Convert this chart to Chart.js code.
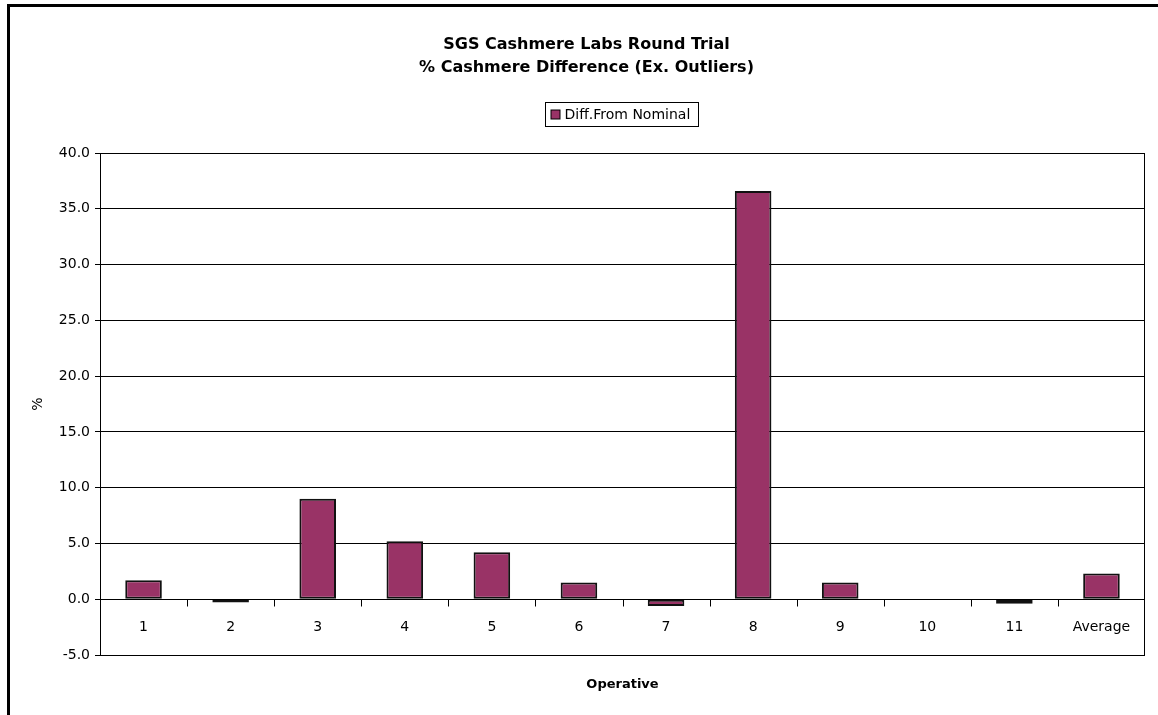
<!DOCTYPE html>
<html>
<head>
<meta charset="utf-8">
<title>SGS Cashmere Labs Round Trial</title>
<script src="https://cdn.jsdelivr.net/npm/chart.js@4.4.1/dist/chart.umd.min.js"></script>
<style>
  html, body { margin: 0; padding: 0; background: #fff; overflow: hidden; }
  #wrap { position: relative; width: 1158px; height: 715px; }
  #chart { position: absolute; left: 0; top: 0; }
  #frame {
    position: absolute; left: 7px; top: 4px; width: 1200px; height: 800px;
    border-top: 3px solid #000; border-left: 3px solid #000; pointer-events: none;
  }
</style>
</head>
<body>
<div id="wrap">
  <canvas id="chart" width="1158" height="715"></canvas>
  <div id="frame"></div>
</div>
<script>
// Operatives taking part in the round trial, plus the overall average
const categories = ['1', '2', '3', '4', '5', '6', '7', '8', '9', '10', '11', 'Average'];
// Difference from nominal cashmere content, in %
const diffFromNominal = [1.7, -0.3, 9.0, 5.2, 4.2, 1.5, -0.6, 36.6, 1.5, 0, -0.4, 2.3];
const seriesLabel = 'Diff.From Nominal';
const titleLines = ['SGS Cashmere Labs Round Trial', '% Cashmere Difference (Ex. Outliers)'];
const yAxisTitle = '%';
const xAxisTitle = 'Operative';
const yMin = -5, yMax = 40, yStep = 5;

const BAR_COLOR = '#993366';
Chart.defaults.font.family = "'DejaVu Sans', 'Liberation Sans', sans-serif";
Chart.defaults.color = '#000';

// Category axis drawn along the zero line, plot-area right edge, and boxed legend
const excelStyle = {
  id: 'excelStyle',
  afterDraw(chart) {
    const { ctx, chartArea: a, scales: { x, y } } = chart;
    const y0 = Math.round(y.getPixelForValue(0)) + 0.5;
    ctx.save();
    ctx.strokeStyle = '#000';
    ctx.lineWidth = 1;

    // right border of the plot area
    ctx.beginPath();
    ctx.moveTo(Math.round(a.right) - 0.5, a.top);
    ctx.lineTo(Math.round(a.right) - 0.5, a.bottom);
    ctx.stroke();

    // zero line
    ctx.beginPath();
    ctx.moveTo(a.left, y0);
    ctx.lineTo(a.right, y0);
    ctx.stroke();

    // tick marks between categories
    ctx.beginPath();
    for (let i = 0; i < categories.length - 1; i++) {
      const xb = Math.round((x.getPixelForValue(i) + x.getPixelForValue(i + 1)) / 2) + 0.5;
      ctx.moveTo(xb, y0);
      ctx.lineTo(xb, y0 + 7);
    }
    ctx.stroke();

    // category labels
    ctx.fillStyle = '#000';
    ctx.font = "14px 'DejaVu Sans', sans-serif";
    ctx.textAlign = 'center';
    ctx.textBaseline = 'middle';
    categories.forEach((c, i) => {
      ctx.fillText(c, x.getPixelForValue(i), y0 + 28);
    });

    // legend
    const ds = chart.data.datasets[0];
    ctx.font = "14px 'DejaVu Sans', sans-serif";
    const tw = ctx.measureText(ds.label).width;
    const bw = 19 + tw + 8;
    const bh = 24;
    const cx = (a.left + a.right) / 2 - 1;
    const bx = Math.round(cx - bw / 2) + 0.5;
    const by = 102.5;
    ctx.strokeRect(bx, by, Math.round(bw), bh);
    ctx.fillStyle = ds.backgroundColor;
    ctx.fillRect(bx + 5.5, by + 7.5, 9, 9);
    ctx.strokeRect(bx + 5.5, by + 7.5, 9, 9);
    ctx.fillStyle = '#000';
    ctx.textAlign = 'left';
    ctx.fillText(ds.label, bx + 19, by + bh / 2 + 0.5);
    ctx.restore();
  }
};

new Chart(document.getElementById('chart'), {
  type: 'bar',
  data: {
    labels: categories,
    datasets: [{
      label: seriesLabel,
      data: diffFromNominal,
      backgroundColor: BAR_COLOR,
      borderColor: '#111',
      borderWidth: 2,
      borderSkipped: false,
      categoryPercentage: 1,
      barPercentage: 0.42
    }]
  },
  options: {
    responsive: false,
    animation: false,
    devicePixelRatio: 1,
    layout: { padding: { left: 28, right: 13, top: 0, bottom: 0 } },
    plugins: {
      legend: { display: false },
      tooltip: { enabled: false },
      title: {
        display: true,
        text: titleLines,
        color: '#000',
        font: { size: 16, weight: 'bold', lineHeight: '23px' },
        padding: { top: 33, bottom: 74 }
      }
    },
    scales: {
      x: {
        ticks: { display: false },
        grid: { display: false },
        border: { display: false },
        title: {
          display: true,
          text: xAxisTitle,
          color: '#000',
          font: { size: 13, weight: 'bold' },
          padding: { top: 0, bottom: 23 }
        },
        afterFit(s) { s.height = 60; }
      },
      y: {
        min: yMin,
        max: yMax,
        ticks: {
          stepSize: yStep,
          color: '#000',
          font: { size: 14 },
          padding: 5,
          callback: v => Number(v).toFixed(1)
        },
        grid: { color: '#000', lineWidth: 1, tickLength: 5, tickColor: '#000' },
        border: { color: '#000', width: 1 },
        title: {
          display: true,
          text: yAxisTitle,
          color: '#000',
          font: { size: 14 },
          padding: { top: 2, bottom: 0 }
        },
        afterFit(s) { s.width = 72; }
      }
    }
  },
  plugins: [excelStyle]
});
</script>
</body>
</html>
